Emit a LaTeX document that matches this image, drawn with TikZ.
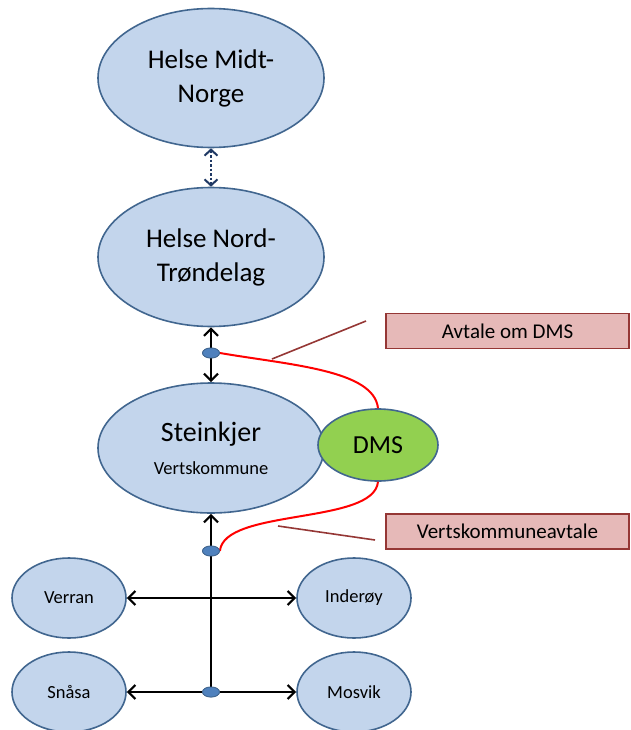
\documentclass[tikz,border=0pt]{standalone}
\usepackage{fontspec}
\setmainfont{Carlito}
\usetikzlibrary{shapes.geometric,arrows.meta}
\definecolor{ellfill}{HTML}{C3D5EC}
\definecolor{ellline}{HTML}{41668F}
\definecolor{dmsfill}{HTML}{92D050}
\definecolor{dotfill}{HTML}{4F81BD}
\definecolor{boxfill}{HTML}{E6B9B8}
\definecolor{boxline}{HTML}{953735}
\definecolor{navy}{HTML}{1F3864}
\definecolor{brownline}{HTML}{953735}
\tikzset{
  ell/.style={ellipse, draw=ellline, fill=ellfill, line width=1.6pt, inner sep=0pt, align=center, text=black},
  bigell/.style={ell, minimum width=226pt, minimum height=139pt, font=\fontsize{27}{34}\selectfont},
  smallell/.style={ell, minimum width=114pt, minimum height=80pt, font=\fontsize{18.5}{22}\selectfont},
  dotnode/.style={ellipse, draw=ellline, fill=dotfill, line width=0.8pt, minimum width=17pt, minimum height=10pt, inner sep=0pt},
  labelbox/.style={draw=boxline, fill=boxfill, line width=1.6pt, minimum width=243pt, minimum height=35pt, inner sep=0pt, font=\fontsize{21}{24}\selectfont},
  conn/.style={line width=2.2pt, black, {Straight Barb[length=7pt,width=14pt,line width=2.2pt]}-{Straight Barb[length=7pt,width=14pt,line width=2.2pt]}},
  uparrow/.style={line width=2.2pt, black, -{Straight Barb[length=7pt,width=14pt,line width=2.2pt]}},
  redline/.style={red, line width=2pt},
  pointer/.style={brownline, line width=1.6pt}
}
\begin{document}
\begin{tikzpicture}[x=1pt,y=-1pt]
\useasboundingbox (0,0) rectangle (630,730);
% main ellipses
\node[bigell] (hmn) at (211,78) {Helse Midt-\\Norge};
\node[bigell] (hnt) at (211,257) {Helse Nord-\\Trøndelag};
\node[bigell, minimum height=130pt] (stk) at (211,448) {{\fontsize{28}{30}\selectfont Steinkjer}\\[-1pt]{\fontsize{18.5}{24}\selectfont Vertskommune}};
\node[ell, fill=dmsfill, minimum width=120pt, minimum height=72pt, font=\fontsize{26}{30}\selectfont] (dms) at (378,445) {DMS};
% municipalities
\node[smallell] (ver) at (69,598) {Verran};
\node[smallell] (ind) at (354,598) {Inderøy};
\node[smallell] (sna) at (69,692) {Snåsa};
\node[smallell] (mos) at (354,692) {Mosvik};
% dotted arrow
\draw[navy, line width=2.5pt, dotted, {Straight Barb[length=6pt,width=13pt,line width=2pt]}-{Straight Barb[length=6pt,width=13pt,line width=2pt]}] (hmn.south) -- (hnt.north);
% dots
\node[dotnode] (d1) at (211,353) {};
\node[dotnode] (d2) at (211,551) {};
\node[dotnode] (d3) at (211,692) {};
% arrows
\draw[uparrow] (d1.north) -- (hnt.south);
\draw[uparrow] (d1.south) -- (stk.north);
\draw[uparrow] (d2.north) -- (stk.south);
\draw[line width=2.2pt] (d2.south) -- (d3.north);
\draw[conn] (ver.east) -- (ind.west);
\draw[uparrow] (d3.west) -- (sna.east);
\draw[uparrow] (d3.east) -- (mos.west);
% red curves
\draw[redline] (d1.east) .. controls (290,365) and (374,370) .. (dms.north);
\draw[redline] (dms.south) .. controls (374,525) and (224,508) .. (d2.east);
% label boxes
\node[labelbox] (b1) at (507.5,331) {Avtale om DMS};
\node[labelbox] (b2) at (507.5,531.5) {Vertskommuneavtale};
\coordinate (p1a) at (272,359);
\coordinate (p1b) at (366,321);
\coordinate (p2a) at (278,526);
\coordinate (p2b) at (375,540);
\draw[pointer] (p1a) -- (p1b);
\draw[pointer] (p2a) -- (p2b);
% redraw dots on top
\node[dotnode] at (d1) {};
\node[dotnode] at (d2) {};
\node[dotnode] at (d3) {};
\end{tikzpicture}
\end{document}
